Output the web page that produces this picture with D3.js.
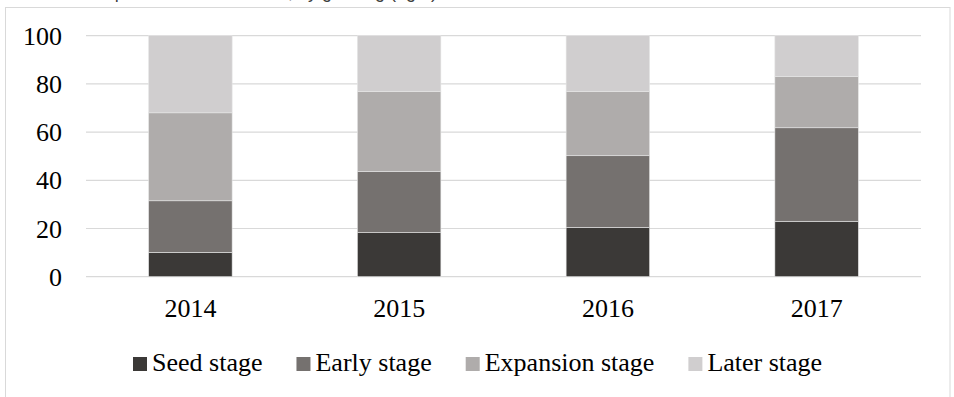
<!DOCTYPE html>
<html><head><meta charset="utf-8">
<script src="https://cdn.jsdelivr.net/npm/d3@7"></script>
<style>body{margin:0;background:#fff}svg{display:block}</style>
</head><body>
<svg id="c" width="954" height="397"></svg>
<script>
const years = ["2014","2015","2016","2017"];
const seriesNames = ["Seed stage","Early stage","Expansion stage","Later stage"];
const seed      = [10.1, 18.3, 20.5, 23.0];
const early     = [21.4, 25.3, 29.7, 38.8];
const expansion = [36.5, 33.2, 26.6, 21.2];
const later     = [32.0, 23.2, 23.2, 17.0];
const yTicks = [0,20,40,60,80,100];
const colors = ["#3b3937","#75716f","#afacab","#d0cecf"];
const titleText = "Share of venture capital investment deals, by growing (right)";

const svg = d3.select("#c");
const serif = "'Liberation Serif','Times New Roman',serif";

// partial title clipped at top
svg.append("text").attr("x",437).attr("y",-2).attr("text-anchor","end")
  .attr("font-family","'Liberation Sans',Arial,sans-serif").attr("font-size",18)
  .attr("fill","#404040").text(titleText);

// outer chart border
svg.append("rect").attr("x",5.5).attr("y",7.5).attr("width",944.5).attr("height",400)
  .attr("fill","#fff").attr("stroke","#d9d9d9").attr("stroke-width",1);

const x = d3.scaleBand().domain(years).range([86,921]).padding(0);
const y = d3.scaleLinear().domain([0,100]).range([276.7,35.7]);

// gridlines
svg.append("g").selectAll("line").data(yTicks).join("line")
  .attr("x1",86).attr("x2",921).attr("y1",d=>y(d)).attr("y2",d=>y(d))
  .attr("stroke","#d9d9d9").attr("stroke-width",1.2);

// y labels
svg.append("g").selectAll("text").data(yTicks).join("text")
  .attr("x",62).attr("y",d=>y(d)).attr("dy","0.35em").attr("text-anchor","end")
  .attr("font-family",serif).attr("font-size",26).attr("fill","#000").text(d=>d);

// stacked data
const rows = years.map((yr,i)=>({year:yr, s0:seed[i], s1:early[i], s2:expansion[i], s3:later[i]}));
const stack = d3.stack().keys(["s0","s1","s2","s3"])(rows);
const bw = x.bandwidth()*0.4;
svg.append("g").selectAll("g").data(stack).join("g").attr("fill",(d,i)=>colors[i])
  .selectAll("rect").data(d=>d).join("rect")
  .attr("x",d=>x(d.data.year)+x.bandwidth()/2-bw/2)
  .attr("width",bw)
  .attr("y",d=>y(d[1]))
  .attr("height",d=>y(d[0])-y(d[1]))
  .attr("stroke","#e6e6e6").attr("stroke-width",0.6);

// x labels
svg.append("g").selectAll("text").data(years).join("text")
  .attr("x",d=>x(d)+x.bandwidth()/2).attr("y",317).attr("text-anchor","middle")
  .attr("font-family",serif).attr("font-size",26).attr("fill","#000").text(d=>d);

// legend
const lg = svg.append("g");
let lx = 133;
seriesNames.forEach((n,i)=>{
  lg.append("rect").attr("x",lx).attr("y",357).attr("width",14).attr("height",14).attr("fill",colors[i]);
  const t = lg.append("text").attr("x",lx+19).attr("y",371)
    .attr("font-family",serif).attr("font-size",26).attr("fill","#000").text(n);
  const w = t.node().getComputedTextLength();
  lx = lx + 19 + w + 34;
});
</script>
</body></html>
